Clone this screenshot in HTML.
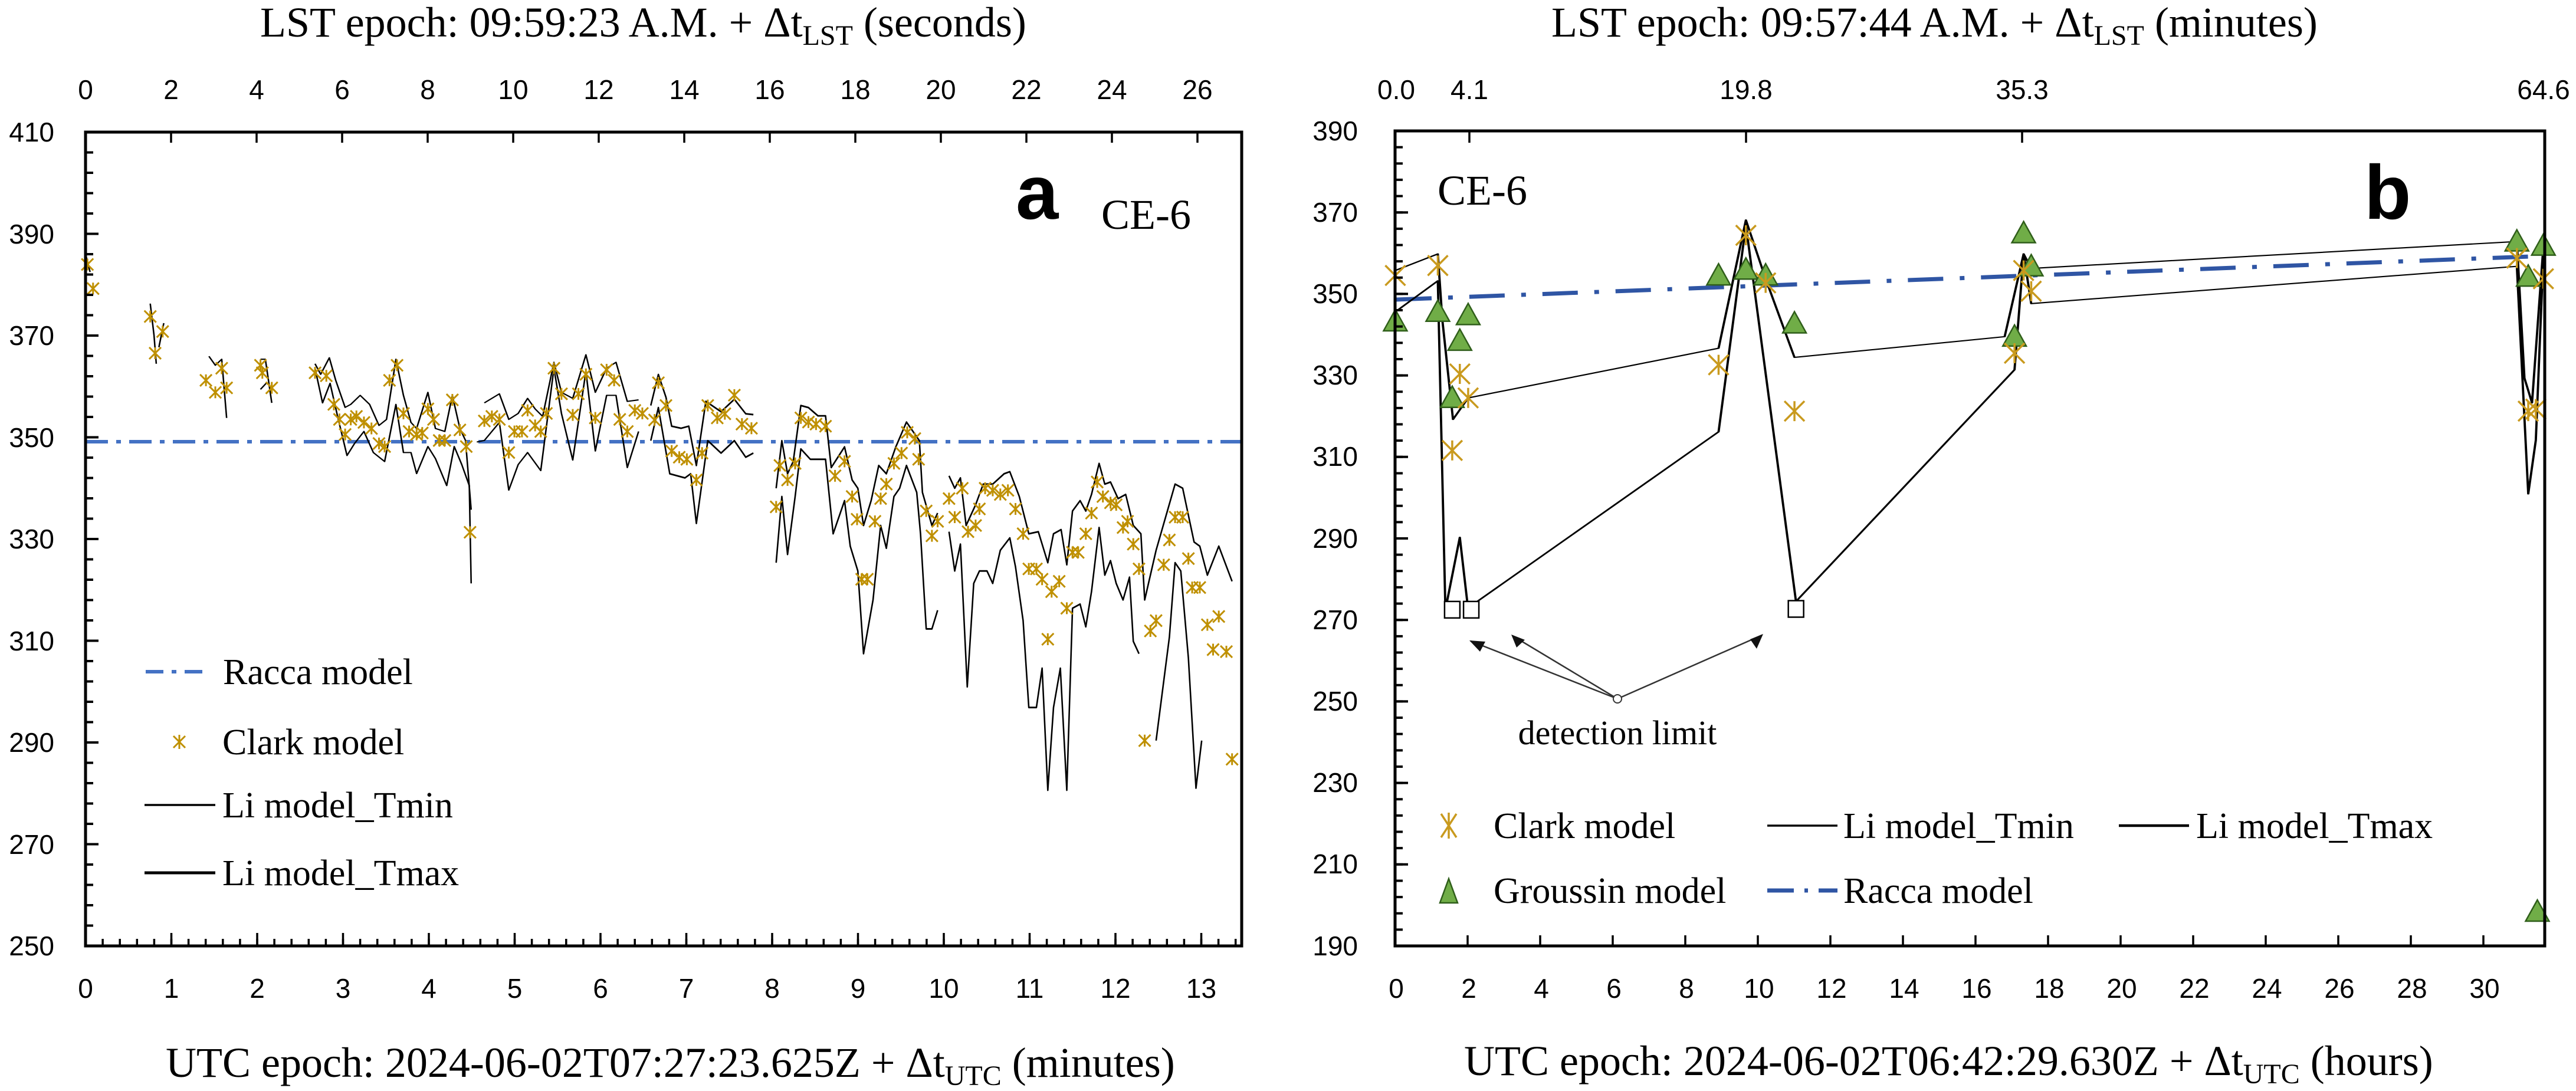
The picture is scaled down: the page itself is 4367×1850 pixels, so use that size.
<!DOCTYPE html>
<html><head><meta charset="utf-8"><style>
html,body{margin:0;padding:0;background:#fff;}
svg{display:block;}
.t{font-family:"Liberation Serif",serif;fill:#000;}
.n{font-family:"Liberation Sans",sans-serif;fill:#000;font-size:46px;}
.ln{fill:none;stroke:#000;vector-effect:non-scaling-stroke;stroke-linejoin:round;}
</style></head><body>
<svg width="4367" height="1850" viewBox="0 0 4367 1850" xmlns="http://www.w3.org/2000/svg">
<defs>
<path id="sA7" d="M-15.7,-19.6L15.7,19.6M15.7,-19.6L-15.7,19.6M0,-19.6L0,19.6" stroke="#bf9000" stroke-width="3" fill="none" vector-effect="non-scaling-stroke"/>
<path id="sA8" d="M-15.5,-14.3L15.5,14.3M15.5,-14.3L-15.5,14.3M0,-14.3L0,14.3" stroke="#bf9000" stroke-width="3" fill="none" vector-effect="non-scaling-stroke"/>
<path id="sB" d="M-13.2,-24.2L13.2,24.2M13.2,-24.2L-13.2,24.2M0,-24.2L0,24.2" stroke="#c99a1e" stroke-width="3.5" fill="none" vector-effect="non-scaling-stroke"/>
<path id="tB" d="M0,-28.5L15.5,22.8L-15.5,22.8Z" fill="#70ad47" stroke="#2f5e1a" stroke-width="2.5" vector-effect="non-scaling-stroke"/>
<rect id="qB" x="-10.1" y="-20" width="20.2" height="40" fill="#fff" stroke="#000" stroke-width="2.5" vector-effect="non-scaling-stroke"/>
</defs>

<!-- ===== Panel A ===== -->
<text class="t" x="441" y="62" font-size="72">LST epoch: 09:59:23 A.M. + Δt<tspan font-size="48" dy="14">LST</tspan><tspan dy="-14"> (seconds)</tspan></text>
<text class="t" x="281" y="1826" font-size="72">UTC epoch: 2024-06-02T07:27:23.625Z + Δt<tspan font-size="48" dy="14">UTC</tspan><tspan dy="-14"> (minutes)</tspan></text>

<!-- racca -->
<line x1="145" y1="749" x2="2105" y2="749" stroke="#4472c4" stroke-width="6" stroke-dasharray="38 14 8 14"/>

<g transform="translate(145,400) scale(0.6378,0.5102)">
<g class="ln" stroke-width="4">
<polyline points="0,60 12,120"/>
<polyline points="172,225 182,330 188,425"/>
<polyline points="208,290 195,370"/>
<polyline points="328,400 345,430 362,410 375,605"/>
<polyline points="465,410 478,410 495,555"/>
<polyline points="465,510 480,490"/>
<polyline points="610,425 625,460 648,405 665,480 690,570 705,560 730,530 755,560 780,630 800,610 825,410 845,530 865,620 880,640 910,520 930,640 955,650 975,530 995,640 1010,680 1025,910"/>
<polyline points="610,440 630,555 650,490 670,600 695,730 715,690 740,650 765,720 795,750 825,560 845,720 865,720 880,790 910,700 930,740 960,830 980,700 1000,760 1020,830 1025,1155"/>
<polyline points="1060,555 1100,525 1125,610 1150,590 1175,540 1195,575 1215,600 1245,420 1265,520 1295,540 1330,395 1355,520 1385,440 1410,420 1440,550 1470,545"/>
<polyline points="1040,685 1060,680 1100,620 1125,845 1150,760 1175,720 1210,780 1245,440 1265,590 1295,745 1330,450 1355,715 1385,530 1410,530 1440,770 1470,650"/>
</g>
<g>
<use href="#sA7" x="5" y="95"/><use href="#sA7" x="20" y="175"/><use href="#sA7" x="172" y="268"/><use href="#sA7" x="205" y="318"/><use href="#sA7" x="185" y="390"/><use href="#sA7" x="320" y="480"/><use href="#sA7" x="345" y="520"/><use href="#sA7" x="362" y="440"/><use href="#sA7" x="375" y="505"/><use href="#sA7" x="465" y="430"/><use href="#sA7" x="470" y="455"/><use href="#sA7" x="495" y="505"/><use href="#sA7" x="610" y="455"/><use href="#sA7" x="640" y="465"/><use href="#sA7" x="660" y="560"/><use href="#sA7" x="675" y="610"/><use href="#sA7" x="690" y="660"/><use href="#sA7" x="705" y="610"/><use href="#sA7" x="720" y="600"/><use href="#sA7" x="740" y="620"/><use href="#sA7" x="760" y="640"/><use href="#sA7" x="780" y="690"/><use href="#sA7" x="795" y="700"/><use href="#sA7" x="808" y="480"/><use href="#sA7" x="828" y="430"/><use href="#sA7" x="845" y="590"/><use href="#sA7" x="860" y="650"/><use href="#sA7" x="880" y="660"/><use href="#sA7" x="895" y="655"/><use href="#sA7" x="910" y="575"/><use href="#sA7" x="925" y="610"/><use href="#sA7" x="940" y="680"/><use href="#sA7" x="955" y="680"/><use href="#sA7" x="975" y="545"/><use href="#sA7" x="995" y="645"/><use href="#sA7" x="1012" y="700"/><use href="#sA7" x="1022" y="985"/><use href="#sA7" x="1060" y="615"/><use href="#sA7" x="1080" y="600"/><use href="#sA7" x="1100" y="610"/><use href="#sA7" x="1125" y="720"/><use href="#sA7" x="1140" y="650"/><use href="#sA7" x="1160" y="650"/><use href="#sA7" x="1175" y="580"/><use href="#sA7" x="1195" y="630"/><use href="#sA7" x="1210" y="650"/><use href="#sA7" x="1225" y="590"/><use href="#sA7" x="1245" y="440"/><use href="#sA7" x="1265" y="525"/><use href="#sA7" x="1295" y="595"/><use href="#sA7" x="1310" y="525"/><use href="#sA7" x="1330" y="460"/><use href="#sA7" x="1355" y="605"/><use href="#sA7" x="1385" y="445"/><use href="#sA7" x="1405" y="480"/><use href="#sA7" x="1420" y="610"/><use href="#sA7" x="1440" y="650"/><use href="#sA7" x="1460" y="580"/><use href="#sA7" x="1480" y="590"/>
</g>
</g>

<g transform="translate(1100,400) scale(0.6441,0.7015)">
<g class="ln" stroke-width="4">
<polyline points="5,410 25,335 45,390 60,460 85,465 105,460 125,555 150,400 190,425 225,395 255,430 275,432"/>
<polyline points="5,495 25,415 55,575 95,585 110,575 125,695 155,495 190,525 225,495 255,535 275,525"/>
<polyline points="335,610 350,495 365,575 380,545 400,410 420,415 445,435 465,435 480,560 515,510 535,590 550,610 565,700 585,640 605,555 625,575 650,510 678,450 712,495 720,620 745,700 760,670"/>
<polyline points="335,790 350,630 365,770 385,630 400,515 425,540 465,540 485,720 515,640 530,750 550,810 565,1010 590,880 610,700 625,755 645,630 660,610 678,555 705,620 715,720 730,950 745,950 760,905"/>
<polyline points="790,580 805,610 820,585 835,700 860,650 880,600 905,600 935,575 950,570 975,630 1000,720 1025,715 1050,790 1065,720 1085,710 1100,795 1115,665 1135,640 1150,665 1165,625 1185,550 1200,600 1215,595 1235,635 1255,625 1275,700 1295,720 1305,880 1335,760 1385,600 1405,610 1435,740 1450,750 1470,820 1500,750 1535,835"/>
<polyline points="790,715 805,810 820,745 838,1090 855,840 870,810 890,810 905,840 925,760 950,730 965,800 985,930 1000,1140 1020,1140 1035,1045 1050,1340 1065,1140 1083,1045 1100,1340 1115,900 1135,890 1150,945 1165,860 1185,705 1200,820 1215,785 1230,840 1248,880 1265,825 1275,980 1290,1010"/>
<polyline points="1335,1220 1370,970 1385,790 1400,810 1420,1020 1440,1335 1455,1220"/>
</g>
<g>
<use href="#sA8" x="15" y="445"/><use href="#sA8" x="25" y="355"/><use href="#sA8" x="45" y="410"/><use href="#sA8" x="60" y="520"/><use href="#sA8" x="80" y="535"/><use href="#sA8" x="100" y="540"/><use href="#sA8" x="125" y="590"/><use href="#sA8" x="140" y="525"/><use href="#sA8" x="155" y="410"/><use href="#sA8" x="180" y="440"/><use href="#sA8" x="200" y="430"/><use href="#sA8" x="225" y="385"/><use href="#sA8" x="245" y="455"/><use href="#sA8" x="270" y="465"/><use href="#sA8" x="335" y="655"/><use href="#sA8" x="345" y="555"/><use href="#sA8" x="365" y="590"/><use href="#sA8" x="385" y="550"/><use href="#sA8" x="400" y="440"/><use href="#sA8" x="420" y="450"/><use href="#sA8" x="440" y="455"/><use href="#sA8" x="465" y="460"/><use href="#sA8" x="490" y="580"/><use href="#sA8" x="515" y="545"/><use href="#sA8" x="535" y="630"/><use href="#sA8" x="548" y="685"/><use href="#sA8" x="560" y="830"/><use href="#sA8" x="575" y="830"/><use href="#sA8" x="595" y="690"/><use href="#sA8" x="610" y="635"/><use href="#sA8" x="625" y="600"/><use href="#sA8" x="645" y="550"/><use href="#sA8" x="665" y="525"/><use href="#sA8" x="680" y="475"/><use href="#sA8" x="700" y="490"/><use href="#sA8" x="710" y="540"/><use href="#sA8" x="730" y="665"/><use href="#sA8" x="745" y="725"/><use href="#sA8" x="760" y="690"/><use href="#sA8" x="790" y="635"/><use href="#sA8" x="805" y="680"/><use href="#sA8" x="825" y="610"/><use href="#sA8" x="840" y="715"/><use href="#sA8" x="860" y="700"/><use href="#sA8" x="870" y="660"/><use href="#sA8" x="885" y="610"/><use href="#sA8" x="905" y="615"/><use href="#sA8" x="925" y="625"/><use href="#sA8" x="945" y="615"/><use href="#sA8" x="965" y="660"/><use href="#sA8" x="985" y="720"/><use href="#sA8" x="1000" y="805"/><use href="#sA8" x="1020" y="805"/><use href="#sA8" x="1035" y="830"/><use href="#sA8" x="1060" y="860"/><use href="#sA8" x="1080" y="835"/><use href="#sA8" x="1050" y="975"/><use href="#sA8" x="1100" y="900"/><use href="#sA8" x="1115" y="765"/><use href="#sA8" x="1130" y="765"/><use href="#sA8" x="1150" y="720"/><use href="#sA8" x="1165" y="670"/><use href="#sA8" x="1180" y="595"/><use href="#sA8" x="1195" y="630"/><use href="#sA8" x="1215" y="645"/><use href="#sA8" x="1230" y="650"/><use href="#sA8" x="1248" y="705"/><use href="#sA8" x="1260" y="690"/><use href="#sA8" x="1275" y="745"/><use href="#sA8" x="1290" y="805"/><use href="#sA8" x="1305" y="1220"/><use href="#sA8" x="1320" y="955"/><use href="#sA8" x="1335" y="930"/><use href="#sA8" x="1355" y="795"/><use href="#sA8" x="1370" y="735"/><use href="#sA8" x="1385" y="680"/><use href="#sA8" x="1405" y="680"/><use href="#sA8" x="1420" y="780"/><use href="#sA8" x="1430" y="850"/><use href="#sA8" x="1450" y="850"/><use href="#sA8" x="1470" y="940"/><use href="#sA8" x="1500" y="920"/><use href="#sA8" x="1485" y="1000"/><use href="#sA8" x="1520" y="1005"/><use href="#sA8" x="1535" y="1265"/>
</g>
</g>

<!-- axes A -->
<rect x="145" y="224" width="1960" height="1380" fill="none" stroke="#000" stroke-width="5"/>
<!-- left ticks -->
<line x1="151.5" y1="1604" x2="151.5" y2="224" stroke="#000" stroke-width="13" stroke-dasharray="4 30.5" stroke-dashoffset="2"/>
<line x1="156" y1="1604" x2="156" y2="224" stroke="#000" stroke-width="22" stroke-dasharray="4 168.5" stroke-dashoffset="2"/>
<!-- bottom ticks -->
<line x1="145" y1="1598" x2="2105" y2="1598" stroke="#000" stroke-width="12" stroke-dasharray="3.5 25.6" stroke-dashoffset="1.75"/>
<line x1="145" y1="1593" x2="2105" y2="1593" stroke="#000" stroke-width="22" stroke-dasharray="3.5 142" stroke-dashoffset="1.75"/>
<!-- top ticks -->
<line x1="145" y1="233" x2="2105" y2="233" stroke="#000" stroke-width="18" stroke-dasharray="3.5 141.5" stroke-dashoffset="1.75"/>
<g class="n" text-anchor="end">
<text x="92" y="240">410</text><text x="92" y="413">390</text><text x="92" y="585">370</text><text x="92" y="758">350</text><text x="92" y="930">330</text><text x="92" y="1103">310</text><text x="92" y="1275">290</text><text x="92" y="1448">270</text><text x="92" y="1620">250</text>
</g>
<g class="n" text-anchor="middle">
<text x="145" y="1692">0</text><text x="290.5" y="1692">1</text><text x="436" y="1692">2</text><text x="581.5" y="1692">3</text><text x="727" y="1692">4</text><text x="872.5" y="1692">5</text><text x="1018" y="1692">6</text><text x="1163.5" y="1692">7</text><text x="1309" y="1692">8</text><text x="1454.5" y="1692">9</text><text x="1600" y="1692">10</text><text x="1745.5" y="1692">11</text><text x="1891" y="1692">12</text><text x="2036.5" y="1692">13</text>
<text x="145" y="168">0</text><text x="290" y="168">2</text><text x="435" y="168">4</text><text x="580" y="168">6</text><text x="725" y="168">8</text><text x="870" y="168">10</text><text x="1015" y="168">12</text><text x="1160" y="168">14</text><text x="1305" y="168">16</text><text x="1450" y="168">18</text><text x="1595" y="168">20</text><text x="1740" y="168">22</text><text x="1885" y="168">24</text><text x="2030" y="168">26</text>
</g>
<text x="1722" y="371" font-family="Liberation Sans,sans-serif" font-weight="bold" font-size="130">a</text>
<text class="t" x="1867" y="388" font-size="72">CE-6</text>
<!-- legend A -->
<line x1="247" y1="1139" x2="345" y2="1139" stroke="#4472c4" stroke-width="6" stroke-dasharray="30 14 8 14"/>
<text class="t" x="378" y="1160" font-size="62">Racca model</text>
<path d="M294,1248L314,1268M314,1248L294,1268M304,1246L304,1270" stroke="#bf9000" stroke-width="3" fill="none"/>
<text class="t" x="377" y="1279" font-size="62">Clark model</text>
<line x1="245" y1="1365" x2="365" y2="1365" stroke="#000" stroke-width="3.5"/>
<text class="t" x="377" y="1386" font-size="62">Li model_Tmin</text>
<line x1="245" y1="1480" x2="365" y2="1480" stroke="#000" stroke-width="5"/>
<text class="t" x="377" y="1501" font-size="62">Li model_Tmax</text>

<!-- ===== Panel B ===== -->
<text class="t" x="2630" y="62" font-size="72">LST epoch: 09:57:44 A.M. + Δt<tspan font-size="48" dy="14">LST</tspan><tspan dy="-14"> (minutes)</tspan></text>
<text class="t" x="2482" y="1823" font-size="72">UTC epoch: 2024-06-02T06:42:29.630Z + Δt<tspan font-size="48" dy="14">UTC</tspan><tspan dy="-14"> (hours)</tspan></text>

<line x1="2367" y1="508" x2="4314" y2="434" stroke="#2f55a4" stroke-width="7" stroke-dasharray="60 28 8 28"/>

<g transform="translate(2350,150) scale(1.2864,0.7015)">
<g class="ln" stroke-width="3">
<polyline points="12,440 68,400 74,560 88,800 108,748 438,628 474,318 500,460 538,650 815,600 840,400 850,435 1490,370 1500,700 1510,760 1525,380"/>
<polyline points="12,540 68,465 78,1260 97,1085 108,1260 120,1240 438,830 474,330 540,1240 828,680 840,400 850,520 1490,430 1505,980 1515,850 1525,400"/>
</g>
<g>
<use href="#qB" x="87" y="1260"/><use href="#qB" x="112" y="1260"/><use href="#qB" x="540" y="1258"/>
<use href="#tB" x="12" y="563"/><use href="#tB" x="68" y="540"/><use href="#tB" x="87" y="748"/><use href="#tB" x="97" y="610"/><use href="#tB" x="108" y="548"/><use href="#tB" x="438" y="452"/><use href="#tB" x="474" y="438"/><use href="#tB" x="500" y="452"/><use href="#tB" x="538" y="568"/><use href="#tB" x="828" y="600"/><use href="#tB" x="840" y="350"/><use href="#tB" x="850" y="430"/><use href="#tB" x="1490" y="370"/><use href="#tB" x="1505" y="455"/><use href="#tB" x="1525" y="380"/><use href="#tB" x="1517" y="1990"/>
<use href="#sB" x="12" y="452"/><use href="#sB" x="68" y="428"/><use href="#sB" x="87" y="875"/><use href="#sB" x="97" y="690"/><use href="#sB" x="108" y="748"/><use href="#sB" x="438" y="668"/><use href="#sB" x="474" y="355"/><use href="#sB" x="500" y="470"/><use href="#sB" x="538" y="780"/><use href="#sB" x="828" y="640"/><use href="#sB" x="840" y="440"/><use href="#sB" x="850" y="490"/><use href="#sB" x="1490" y="410"/><use href="#sB" x="1505" y="780"/><use href="#sB" x="1515" y="775"/><use href="#sB" x="1525" y="460"/>
</g>
</g>

<!-- detection limit annotation -->
<g stroke="#333" stroke-width="2.5" fill="none">
<line x1="2742" y1="1185" x2="2493" y2="1087"/>
<line x1="2742" y1="1185" x2="2564" y2="1078"/>
<line x1="2742" y1="1185" x2="2987" y2="1077"/>
</g>
<g fill="#111">
<path d="M2491,1086 L2518,1088 L2509,1105 Z"/>
<path d="M2562,1076 L2585,1085 L2571,1098 Z"/>
<path d="M2989,1075 L2978,1100 L2967,1084 Z"/>
</g>
<circle cx="2742" cy="1185" r="7" fill="#fff" stroke="#333" stroke-width="2"/>
<text class="t" x="2742" y="1262" font-size="58" text-anchor="middle">detection limit</text>

<!-- axes B -->
<rect x="2365" y="222" width="1949" height="1382" fill="none" stroke="#000" stroke-width="5"/>
<line x1="2371.5" y1="1604" x2="2371.5" y2="222" stroke="#000" stroke-width="13" stroke-dasharray="4 23.64" stroke-dashoffset="2"/>
<line x1="2376" y1="1604" x2="2376" y2="222" stroke="#000" stroke-width="22" stroke-dasharray="4 134.2" stroke-dashoffset="2"/>
<line x1="2365" y1="1595" x2="4314" y2="1595" stroke="#000" stroke-width="18" stroke-dasharray="3.5 119.5" stroke-dashoffset="1.75"/>
<g stroke="#000" stroke-width="3.5">
<line x1="2491" y1="222" x2="2491" y2="242"/><line x1="2960" y1="222" x2="2960" y2="242"/><line x1="3428" y1="222" x2="3428" y2="242"/>
</g>
<g class="n" text-anchor="end">
<text x="2302" y="238">390</text><text x="2302" y="376">370</text><text x="2302" y="514">350</text><text x="2302" y="652">330</text><text x="2302" y="790">310</text><text x="2302" y="929">290</text><text x="2302" y="1067">270</text><text x="2302" y="1205">250</text><text x="2302" y="1343">230</text><text x="2302" y="1481">210</text><text x="2302" y="1620">190</text>
</g>
<g class="n" text-anchor="middle">
<text x="2367" y="1692">0</text><text x="2490" y="1692">2</text><text x="2613" y="1692">4</text><text x="2736" y="1692">6</text><text x="2859" y="1692">8</text><text x="2982" y="1692">10</text><text x="3105" y="1692">12</text><text x="3228" y="1692">14</text><text x="3351" y="1692">16</text><text x="3474" y="1692">18</text><text x="3597" y="1692">20</text><text x="3720" y="1692">22</text><text x="3843" y="1692">24</text><text x="3966" y="1692">26</text><text x="4089" y="1692">28</text><text x="4212" y="1692">30</text>
<text x="2367" y="168">0.0</text><text x="2491" y="168">4.1</text><text x="2960" y="168">19.8</text><text x="3428" y="168">35.3</text><text x="4312" y="168">64.6</text>
</g>
<text x="4008" y="371" font-family="Liberation Sans,sans-serif" font-weight="bold" font-size="130">b</text>
<text class="t" x="2437" y="347" font-size="72">CE-6</text>
<!-- legend B -->
<path d="M2443,1380L2469,1420M2469,1380L2443,1420M2456,1378L2456,1422" stroke="#c99a1e" stroke-width="3.5" fill="none"/>
<text class="t" x="2532" y="1421" font-size="62">Clark model</text>
<line x1="2996" y1="1400" x2="3115" y2="1400" stroke="#000" stroke-width="3.5"/>
<text class="t" x="3125" y="1421" font-size="62">Li model_Tmin</text>
<line x1="3592" y1="1400" x2="3711" y2="1400" stroke="#000" stroke-width="4.5"/>
<text class="t" x="3723" y="1421" font-size="62">Li model_Tmax</text>
<path d="M2456,1490L2471,1531L2441,1531Z" fill="#70ad47" stroke="#2f5e1a" stroke-width="2.5"/>
<text class="t" x="2532" y="1531" font-size="62">Groussin model</text>
<line x1="2996" y1="1510" x2="3115" y2="1510" stroke="#2f55a4" stroke-width="7" stroke-dasharray="45 18 6 18"/>
<text class="t" x="3125" y="1531" font-size="62">Racca model</text>
</svg>
</body></html>
